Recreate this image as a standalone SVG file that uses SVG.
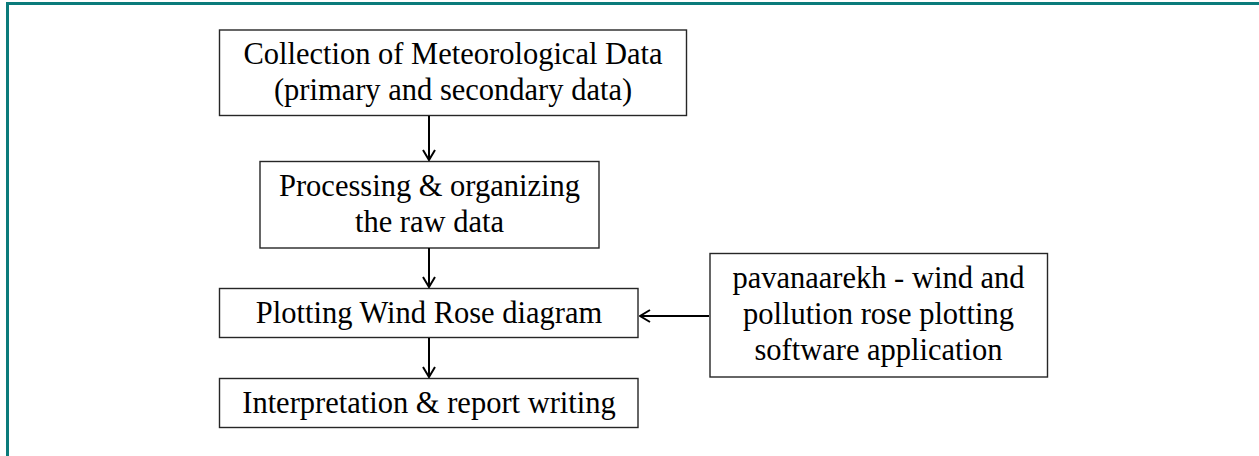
<svg xmlns="http://www.w3.org/2000/svg" width="1259" height="456" viewBox="0 0 1259 456">
<style>
.box{fill:#fff;stroke:#262626;stroke-width:1.4}
.t{font-family:"Liberation Serif","Times New Roman",serif;font-size:30.5px;fill:#000;text-anchor:middle}
.c{stroke:#000;stroke-width:2;fill:none}
</style>
<defs>
<marker id="ah" viewBox="0 0 12 14" refX="11" refY="7" markerWidth="12" markerHeight="14" markerUnits="userSpaceOnUse" orient="auto">
<polyline points="1,1 11,7 1,13" fill="none" stroke="#000" stroke-width="2"/>
</marker>
</defs>
<rect width="1259" height="456" fill="#fff"/>
<g id="frame" stroke="#0b7b7b" stroke-width="3" fill="none">
<line x1="6" y1="3.5" x2="1259" y2="3.5"/>
<line x1="7.5" y1="2" x2="7.5" y2="456"/>
</g>
<g id="n1"><rect class="box" x="219.5" y="30" width="467" height="85.5"/>
<text class="t" x="453" y="64">Collection of Meteorological Data</text>
<text class="t" x="453" y="99.5">(primary and secondary data)</text></g>
<g id="n2"><rect class="box" x="260" y="161.5" width="339" height="86.5"/>
<text class="t" x="429.5" y="196">Processing &amp; organizing</text>
<text class="t" x="429.5" y="231.5">the raw data</text></g>
<g id="n3"><rect class="box" x="219.5" y="288.5" width="418.5" height="49"/>
<text class="t" x="429" y="322.5">Plotting Wind Rose diagram</text></g>
<g id="n4"><rect class="box" x="219.5" y="378.5" width="418.5" height="49"/>
<text class="t" x="429" y="413">Interpretation &amp; report writing</text></g>
<g id="n5"><rect class="box" x="710" y="253.5" width="337.5" height="123.5"/>
<text class="t" x="878.5" y="287.5">pavanaarekh - wind and</text>
<text class="t" x="878.5" y="323.5">pollution rose plotting</text>
<text class="t" x="878.5" y="359.5">software application</text></g>
<g id="connectors">
<line class="c" x1="429" y1="116" x2="429" y2="160" marker-end="url(#ah)"/>
<line class="c" x1="429" y1="248" x2="429" y2="287" marker-end="url(#ah)"/>
<line class="c" x1="429" y1="338" x2="429" y2="377" marker-end="url(#ah)"/>
<line class="c" x1="709" y1="316" x2="640" y2="316" marker-end="url(#ah)"/>
</g>
</svg>
